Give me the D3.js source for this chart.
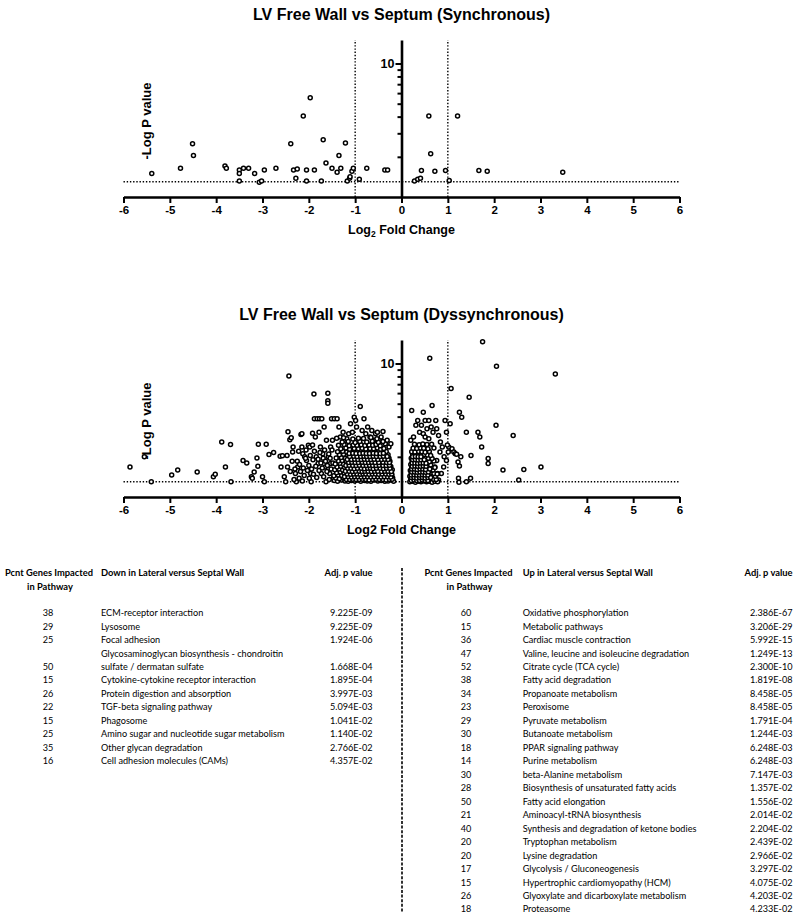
<!DOCTYPE html>
<html><head><meta charset="utf-8">
<script src="https://cdn.jsdelivr.net/npm/d3@7"></script>
<style>body{margin:0;background:#fff}</style>
</head><body><svg id="c" width="800" height="919"></svg>
<script>
// ---------- DATA ----------
const xTickValues=[-6,-5,-4,-3,-2,-1,0,1,2,3,4,5,6];
const yTickValues=[2,3,4,5,6,7,8,9,10];
const yLabeledTicks=[10];
const foldCutoffs=[-1,1];
const pCutoff=1.301;
const chartTitles=["LV Free Wall vs Septum (Synchronous)","LV Free Wall vs Septum (Dyssynchronous)"];
const yAxisLabel="-Log P value";

// [log2 fold change, -log P] synchronous
const syncPoints=[[-5.39,1.50],[-4.77,1.64],[-4.51,2.51],[-4.49,2.05],[-3.81,1.71],[-3.78,1.64],[-3.50,1.59],[-3.50,1.50],[-3.50,1.32],[-3.41,1.64],[-3.30,1.64],[-3.17,1.50],[-3.07,1.29],[-3.02,1.32],[-2.96,1.59],[-2.71,1.64],[-2.39,2.51],[-2.33,1.59],[-2.25,1.62],[-2.28,1.38],[-2.12,4.05],[-2.05,1.59],[-2.05,1.32],[-1.97,5.55],[-1.88,1.59],[-1.73,1.32],[-1.69,2.69],[-1.63,1.80],[-1.50,1.64],[-1.39,1.53],[-1.35,2.05],[-1.31,1.64],[-1.21,2.54],[-1.17,1.32],[-1.12,1.38],[-1.11,1.42],[-1.07,1.56],[-1.04,1.64],[-0.91,1.36],[-0.75,1.64],[-0.36,1.59],[-0.30,1.59],[0.28,1.32],[0.35,1.36],[0.41,1.38],[0.43,1.58],[0.59,4.05],[0.63,2.11],[0.72,1.56],[0.95,1.58],[1.03,1.33],[1.21,4.05],[1.67,1.58],[1.85,1.56],[3.48,1.53]];

// dyssynchronous: sparse points
const dysOutliers=[[-5.86,1.68],[-5.55,2.00],[-5.40,1.30],[-4.96,1.46],[-4.83,1.59],[-4.41,1.54],[-4.06,1.42],[-4.02,1.48],[-3.88,2.58],[-3.80,1.68],[-3.69,2.47],[-3.68,1.30],[-3.42,1.88],[-3.34,1.80],[-3.24,1.42],[-3.22,1.38],[-3.18,1.54],[-3.12,1.96],[-3.09,2.48],[-3.10,1.70],[-3.00,1.42],[-2.96,1.30],[-2.92,2.48],[-2.86,2.08],[-2.76,2.15],[-2.62,2.02],[-2.60,1.68],[-2.57,2.04],[-2.53,1.42],[-2.50,1.30],
[-2.47,2.05],[-2.46,1.68],[-2.45,3.08],[-2.43,8.05],[-2.41,2.69],[-2.38,2.78],[-2.35,2.17],[-2.34,2.37],[-2.29,1.50],[-2.27,1.30],[-2.24,1.68],[-2.21,1.38],[-2.17,2.94],[-2.15,2.98],[-2.15,2.37],[-2.13,2.11],[-2.09,2.00],[-2.05,1.88],[-2.01,2.44],[-1.98,2.37],[-1.96,1.50],[-1.95,1.30],[-1.92,3.00],[-1.91,1.90],[-1.89,5.91],[-1.88,3.85],[-1.86,2.81],[-1.84,2.00],[-1.82,3.85],[-1.80,1.78],[-1.78,3.06],[-1.77,3.85],[-1.75,2.37],[-1.73,1.50],[-1.72,3.85],[-1.70,2.11],[-1.67,3.34],[-1.65,1.68],[-1.63,1.30],[-1.62,2.66],[-1.59,5.98],[-1.59,5.27],[-1.59,5.04],[-1.58,2.00],[-1.55,1.50],[-1.53,2.37],[-1.53,1.78],[-1.51,3.85],[-1.49,2.66],[-1.47,1.38],
[-2.30,1.62],[-2.25,1.85],[-2.20,1.75],[-2.18,1.55],[-2.12,1.65],[-2.10,1.45],[-2.07,1.95],[-2.03,1.58],[-2.00,1.72],[-1.97,2.05],[-1.94,1.62],[-1.90,1.48],[-1.88,2.20],[-1.85,1.70],[-1.83,1.40],[-1.80,1.92],[-1.78,1.58],[-1.76,2.15],[-1.74,1.80],[-1.71,1.65],[-1.69,1.95],[-1.68,1.42],[-1.66,2.25],[-1.64,1.85],[-1.61,1.55],[-1.60,1.72],[-1.57,2.10],[-1.56,1.35],[-1.54,1.95],[-1.52,1.62],[-1.50,2.25],[-1.48,1.80],[-2.40,1.55],[-2.36,1.85],[-2.32,1.35],[-2.22,2.20],[-2.14,1.32],[-2.06,2.25],[-1.99,1.38],[-1.92,2.45],
[-1.45,3.85],[-1.39,3.85],[-1.35,3.34],[-1.32,2.81],[-1.26,3.06],[-1.22,2.66],[-1.18,2.73],[-1.14,2.98],[-1.10,3.54],[-1.06,3.06],[-1.02,3.96],[-0.99,3.74],[-0.97,3.34],[-0.89,4.76],[-0.85,3.15],[-0.81,3.85],[-0.77,2.98],[-0.73,3.34],[-0.68,2.81],[-0.64,3.15],[-0.60,2.66],[-0.56,2.98],[-0.52,3.06],[-0.48,2.66],[-0.44,2.81],[-0.40,3.10],[-0.35,2.51],[-0.31,2.66],[-0.27,2.37],[-0.23,2.51],
[0.22,4.44],[0.66,4.84],[0.47,4.32],[0.51,3.74],[0.59,3.74],[0.35,3.74],[0.31,3.44],[0.43,3.44],[0.55,3.24],[0.64,3.34],[0.74,3.74],[0.76,3.24],[0.39,3.06],[0.47,2.98],[0.68,3.06],[0.20,2.66],[0.26,2.81],[0.51,2.81],[0.59,2.73],[0.80,2.89],[0.84,2.58],
[0.83,2.17],[0.88,2.37],[0.92,2.00],[0.97,1.88],[0.91,1.68],[1.01,2.17],[1.02,2.37],[1.09,2.30],[1.13,2.17],[1.16,2.11],[1.19,2.09],[1.22,1.83],[1.25,1.71],[1.28,2.00],[1.23,1.38],[1.24,1.29],[0.86,1.50],[0.80,1.34],[0.94,3.74],[0.97,3.06],[0.99,2.45],[1.05,3.54],[1.25,4.32],[1.30,3.96],[1.07,6.51],[1.40,3.06],[1.40,1.30],[1.46,5.58],[1.49,1.38],[1.50,2.05],[1.65,3.06],[1.69,2.81],[1.73,2.37],[1.87,1.94],[1.87,1.78],[2.04,3.44],[2.05,9.55],[2.19,1.59],[2.41,2.89],[2.53,1.34],[2.64,1.61],[3.01,1.68],[3.32,8.33],[1.75,14.58],[0.61,10.96],[0.76,1.88],[0.72,1.68],[0.78,1.50]];

// dyssynchronous: dense cluster, down-regulated side
const dysLeftCluster=[[-1.45,1.33],[-1.38,1.31],[-1.30,1.34],[-1.22,1.32],[-1.15,1.31],[-1.08,1.33],[-1.01,1.32],[-0.95,1.34],[-0.88,1.31],[-0.80,1.33],[-0.74,1.32],[-0.66,1.31],[-0.58,1.34],[-0.51,1.32],[-0.44,1.33],[-0.36,1.31],[-0.29,1.32],[-0.22,1.34],[-0.17,1.31],
[-1.42,1.39],[-1.34,1.37],[-1.26,1.40],[-1.19,1.38],[-1.11,1.36],[-1.04,1.40],[-0.97,1.38],[-0.91,1.37],[-0.84,1.39],[-0.77,1.38],[-0.70,1.36],[-0.62,1.40],[-0.55,1.38],[-0.47,1.37],[-0.40,1.39],[-0.33,1.38],[-0.26,1.36],[-0.19,1.39],
[-1.46,1.44],[-1.37,1.46],[-1.29,1.45],[-1.21,1.43],[-1.13,1.47],[-1.06,1.45],[-0.99,1.44],[-0.92,1.46],[-0.86,1.45],[-0.79,1.43],[-0.72,1.46],[-0.64,1.45],[-0.57,1.44],[-0.49,1.47],[-0.42,1.45],[-0.35,1.44],[-0.28,1.46],[-0.21,1.45],
[-1.40,1.52],[-1.32,1.54],[-1.24,1.51],[-1.17,1.53],[-1.09,1.52],[-1.02,1.50],[-0.94,1.54],[-0.87,1.52],[-0.81,1.51],[-0.75,1.53],[-0.68,1.52],[-0.60,1.54],[-0.53,1.51],[-0.46,1.53],[-0.38,1.52],[-0.31,1.50],[-0.24,1.53],
[-1.44,1.60],[-1.35,1.62],[-1.27,1.59],[-1.20,1.61],[-1.12,1.60],[-1.05,1.58],[-0.98,1.62],[-0.90,1.60],[-0.83,1.59],[-0.76,1.61],[-0.69,1.60],[-0.63,1.62],[-0.56,1.58],[-0.48,1.61],[-0.41,1.60],[-0.34,1.59],[-0.27,1.61],[-0.20,1.60],
[-1.39,1.68],[-1.31,1.70],[-1.23,1.67],[-1.16,1.69],[-1.08,1.68],[-1.00,1.66],[-0.93,1.70],[-0.85,1.68],[-0.78,1.67],[-0.71,1.69],[-0.65,1.68],[-0.59,1.70],[-0.52,1.66],[-0.45,1.69],[-0.37,1.68],[-0.30,1.67],[-0.23,1.69],
[-1.43,1.77],[-1.33,1.79],[-1.25,1.76],[-1.18,1.78],[-1.10,1.77],[-1.03,1.75],[-0.96,1.79],[-0.89,1.77],[-0.82,1.76],[-0.74,1.78],[-0.67,1.77],[-0.61,1.79],[-0.54,1.75],[-0.43,1.78],[-0.36,1.77],[-0.28,1.76],
[-1.36,1.86],[-1.28,1.88],[-1.19,1.85],[-1.12,1.87],[-1.04,1.86],[-0.97,1.84],[-0.90,1.88],[-0.83,1.86],[-0.76,1.85],[-0.70,1.87],[-0.62,1.86],[-0.55,1.88],[-0.47,1.84],[-0.39,1.87],[-0.32,1.86],[-0.25,1.85],
[-1.41,1.96],[-1.30,1.98],[-1.21,1.95],[-1.14,1.97],[-1.06,1.96],[-0.99,1.94],[-0.92,1.98],[-0.84,1.96],[-0.78,1.95],[-0.71,1.97],[-0.64,1.96],[-0.57,1.98],[-0.50,1.94],[-0.42,1.97],[-0.34,1.96],[-0.27,1.95],
[-1.34,2.07],[-1.25,2.09],[-1.16,2.06],[-1.09,2.08],[-1.01,2.07],[-0.94,2.05],[-0.86,2.09],[-0.80,2.07],[-0.73,2.06],[-0.66,2.08],[-0.58,2.07],[-0.51,2.09],[-0.44,2.05],[-0.37,2.08],[-0.29,2.07],
[-1.38,2.18],[-1.27,2.20],[-1.18,2.17],[-1.11,2.19],[-1.03,2.18],[-0.95,2.16],[-0.88,2.20],[-0.81,2.18],[-0.72,2.17],[-0.65,2.19],[-0.57,2.18],[-0.49,2.20],[-0.41,2.16],[-0.33,2.19],
[-1.31,2.30],[-1.20,2.33],[-1.12,2.28],[-1.02,2.31],[-0.93,2.30],[-0.85,2.32],[-0.77,2.29],[-0.68,2.31],[-0.60,2.30],[-0.52,2.33],[-0.45,2.28],[-0.38,2.31],
[-1.36,2.44],[-1.24,2.47],[-1.13,2.42],[-1.04,2.45],[-0.96,2.44],[-0.87,2.46],[-0.79,2.43],[-0.70,2.45],[-0.62,2.44],[-0.55,2.47],[-0.46,2.42],
[-1.28,2.58],[-1.15,2.61],[-1.00,2.56],[-0.90,2.60],[-0.75,2.58],[-0.63,2.62],[-0.50,2.57],[-0.40,2.60],
[-1.40,2.75],[-1.25,2.78],[-1.05,2.72],[-0.93,2.76],[-0.82,2.74],[-0.66,2.79],[-0.53,2.73]];

// densest core of the down-regulated cluster
const dysLeftCore=[[-1.19,1.35],[-1.12,1.35],[-1.05,1.36],[-0.98,1.35],[-0.91,1.35],[-0.84,1.36],[-0.77,1.35],[-0.70,1.34],[-0.62,1.35],[-0.55,1.36],[-0.48,1.35],[-0.40,1.35],[-0.33,1.34],[-0.26,1.35],[-0.20,1.36],
[-1.23,1.42],[-1.15,1.42],[-1.08,1.41],[-1.01,1.42],[-0.94,1.42],[-0.87,1.41],[-0.80,1.42],[-0.73,1.42],[-0.66,1.41],[-0.59,1.42],[-0.51,1.42],[-0.44,1.41],[-0.37,1.42],[-0.30,1.42],[-0.23,1.41],
[-1.17,1.49],[-1.10,1.48],[-1.03,1.49],[-0.96,1.49],[-0.89,1.48],[-0.83,1.49],[-0.77,1.49],[-0.70,1.48],[-0.63,1.49],[-0.56,1.49],[-0.49,1.48],[-0.42,1.49],[-0.34,1.49],[-0.27,1.48],[-0.21,1.49],
[-1.21,1.56],[-1.13,1.56],[-1.06,1.55],[-0.99,1.56],[-0.91,1.56],[-0.85,1.55],[-0.79,1.56],[-0.72,1.56],[-0.65,1.55],[-0.58,1.56],[-0.51,1.56],[-0.43,1.55],[-0.36,1.56],[-0.29,1.56],[-0.22,1.55],
[-1.16,1.64],[-1.09,1.64],[-1.02,1.63],[-0.95,1.64],[-0.87,1.64],[-0.80,1.63],[-0.73,1.64],[-0.67,1.64],[-0.61,1.63],[-0.54,1.64],[-0.46,1.64],[-0.39,1.63],[-0.32,1.64],[-0.25,1.64],
[-1.20,1.72],[-1.13,1.73],[-1.05,1.72],[-0.98,1.72],[-0.91,1.73],[-0.83,1.72],[-0.76,1.72],[-0.69,1.73],[-0.62,1.72],[-0.55,1.72],[-0.48,1.73],[-0.40,1.72],[-0.33,1.72],[-0.26,1.73],
[-1.14,1.81],[-1.07,1.82],[-1.00,1.81],[-0.93,1.81],[-0.85,1.82],[-0.78,1.81],[-0.71,1.81],[-0.64,1.82],[-0.57,1.81],[-0.49,1.81],[-0.40,1.82],[-0.32,1.81],[-0.26,1.81],
[-1.17,1.91],[-1.08,1.91],[-1.01,1.92],[-0.94,1.91],[-0.87,1.91],[-0.80,1.92],[-0.73,1.91],[-0.66,1.91],[-0.59,1.92],[-0.51,1.91],[-0.43,1.91],[-0.36,1.92],[-0.29,1.91],
[-1.12,2.01],[-1.03,2.02],[-0.96,2.01],[-0.88,2.01],[-0.81,2.02],[-0.75,2.01],[-0.68,2.01],[-0.61,2.02],[-0.54,2.01],[-0.46,2.01],[-0.39,2.02],[-0.31,2.01],
[-1.13,2.12],[-1.05,2.13],[-0.98,2.12],[-0.90,2.12],[-0.83,2.13],[-0.76,2.12],[-0.69,2.12],[-0.61,2.13],[-0.54,2.12],[-0.46,2.12],[-0.39,2.13]];

// dyssynchronous: dense cluster, up-regulated side
const dysRightCluster=[[0.18,1.30],[0.24,1.31],[0.30,1.29],[0.36,1.31],[0.42,1.30],[0.48,1.32],[0.54,1.30],[0.60,1.31],[0.66,1.29],[0.72,1.31],[0.78,1.30],
[0.20,1.36],[0.27,1.37],[0.33,1.35],[0.39,1.36],[0.45,1.38],[0.51,1.36],[0.57,1.35],[0.63,1.37],[0.69,1.36],[0.75,1.35],
[0.18,1.43],[0.24,1.42],[0.30,1.44],[0.36,1.43],[0.42,1.41],[0.48,1.44],[0.54,1.43],[0.60,1.42],[0.66,1.44],[0.73,1.43],
[0.21,1.50],[0.27,1.51],[0.33,1.49],[0.39,1.50],[0.45,1.52],[0.51,1.50],[0.57,1.49],[0.63,1.51],[0.70,1.50],[0.77,1.49],
[0.19,1.58],[0.25,1.57],[0.31,1.59],[0.37,1.58],[0.43,1.56],[0.49,1.59],[0.55,1.58],[0.61,1.57],[0.68,1.59],
[0.22,1.66],[0.28,1.67],[0.34,1.65],[0.40,1.66],[0.46,1.68],[0.52,1.66],[0.58,1.65],[0.64,1.67],[0.72,1.66],
[0.20,1.75],[0.26,1.74],[0.32,1.76],[0.38,1.75],[0.44,1.73],[0.50,1.76],[0.56,1.75],[0.63,1.74],
[0.23,1.85],[0.29,1.86],[0.35,1.84],[0.41,1.85],[0.47,1.87],[0.53,1.85],[0.60,1.84],[0.70,1.86],
[0.21,1.95],[0.27,1.94],[0.33,1.96],[0.39,1.95],[0.45,1.93],[0.52,1.96],[0.58,1.95],[0.66,1.94],
[0.24,2.06],[0.30,2.07],[0.36,2.05],[0.42,2.06],[0.49,2.08],[0.56,2.06],[0.63,2.05],
[0.22,2.18],[0.29,2.17],[0.37,2.19],[0.44,2.18],[0.51,2.16],[0.60,2.19],
[0.25,2.32],[0.33,2.31],[0.41,2.33],[0.48,2.32],[0.57,2.30],[0.70,2.33],
[0.28,2.48],[0.38,2.46],[0.46,2.49],[0.55,2.47],[0.65,2.48]];

// densest core of the up-regulated cluster
const dysRightCore=[[0.21,1.33],[0.27,1.34],[0.33,1.33],[0.39,1.33],[0.45,1.34],[0.51,1.33],[0.57,1.33],
[0.21,1.40],[0.27,1.40],[0.33,1.39],[0.39,1.40],[0.45,1.40],[0.51,1.39],[0.57,1.40],[0.63,1.40],
[0.21,1.46],[0.27,1.47],[0.33,1.46],[0.39,1.46],[0.45,1.47],[0.51,1.46],[0.57,1.46],
[0.22,1.54],[0.28,1.54],[0.34,1.53],[0.40,1.54],[0.46,1.54],[0.52,1.53],[0.58,1.54],
[0.22,1.62],[0.28,1.62],[0.34,1.61],[0.40,1.62],[0.46,1.62],[0.52,1.61],[0.61,1.62],
[0.23,1.70],[0.29,1.71],[0.35,1.70],[0.41,1.70],[0.47,1.71],[0.53,1.70],
[0.23,1.80],[0.29,1.80],[0.35,1.79],[0.41,1.80],[0.47,1.80],[0.53,1.79],
[0.24,1.90],[0.30,1.90],[0.36,1.89],[0.42,1.90],[0.49,1.90],
[0.24,2.00],[0.30,2.01],[0.36,2.00],[0.42,2.00]];

// pathway tables
const tableHeadPcnt=["Pcnt Genes Impacted","in Pathway"];
const tableHeadDown="Down in Lateral versus Septal Wall";
const tableHeadUp="Up in Lateral versus Septal Wall";
const tableHeadP="Adj. p value";
const downPcnt=[38,29,25,50,15,26,22,15,25,35,16];
const downPathway=["ECM-receptor interaction","Lysosome","Focal adhesion","Glycosaminoglycan biosynthesis - chondroitin\nsulfate / dermatan sulfate","Cytokine-cytokine receptor interaction","Protein digestion and absorption","TGF-beta signaling pathway","Phagosome","Amino sugar and nucleotide sugar metabolism","Other glycan degradation","Cell adhesion molecules (CAMs)"];
const downP=["9.225E-09","9.225E-09","1.924E-06","1.668E-04","1.895E-04","3.997E-03","5.094E-03","1.041E-02","1.140E-02","2.766E-02","4.357E-02"];
const upPcnt=[60,15,36,47,52,38,34,23,29,30,18,14,30,28,50,21,40,20,20,17,15,26,18];
const upPathway=["Oxidative phosphorylation","Metabolic pathways","Cardiac muscle contraction","Valine, leucine and isoleucine degradation","Citrate cycle (TCA cycle)","Fatty acid degradation","Propanoate metabolism","Peroxisome","Pyruvate metabolism","Butanoate metabolism","PPAR signaling pathway","Purine metabolism","beta-Alanine metabolism","Biosynthesis of unsaturated fatty acids","Fatty acid elongation","Aminoacyl-tRNA biosynthesis","Synthesis and degradation of ketone bodies","Tryptophan metabolism","Lysine degradation","Glycolysis / Gluconeogenesis","Hypertrophic cardiomyopathy (HCM)","Glyoxylate and dicarboxylate metabolism","Proteasome"];
const upP=["2.386E-67","3.206E-29","5.992E-15","1.249E-13","2.300E-10","1.819E-08","8.458E-05","8.458E-05","1.791E-04","1.244E-03","6.248E-03","6.248E-03","7.147E-03","1.357E-02","1.556E-02","2.014E-02","2.204E-02","2.439E-02","2.966E-02","3.297E-02","4.075E-02","4.203E-02","4.233E-02"];

// ---------- DRAW ----------
const svg=d3.select("#c");
svg.append("rect").attr("width",800).attr("height",919).attr("fill","#fff");
const AX="'Liberation Sans', Arial, sans-serif";

function volcano(offY, title, points, subscript){
  const x=d3.scaleLinear().domain([-6,6]).range([123.5,679.5]);
  const y=d3.scaleLog().domain([1,15]).range([197+offY,40+offY]);
  const g=svg.append("g");
  g.append("text").attr("x",401.5).attr("y",20+offY).attr("text-anchor","middle")
    .attr("font-family",AX).attr("font-weight","bold").attr("font-size",16).text(title);
  g.append("line").attr("x1",x(-6)).attr("x2",x(6)).attr("y1",y(pCutoff)).attr("y2",y(pCutoff))
    .attr("stroke","#000").attr("stroke-width",1.4).attr("stroke-dasharray","1.4,1.8");
  foldCutoffs.forEach(c=>{
    g.append("line").attr("x1",x(c)).attr("x2",x(c)).attr("y1",y(1)).attr("y2",y(15))
      .attr("stroke","#000").attr("stroke-width",1.4).attr("stroke-dasharray","1.4,1.8");
  });
  const xa=g.append("g").attr("transform",`translate(0,${y(1)})`)
    .call(d3.axisBottom(x).tickValues(xTickValues).tickSize(6).tickSizeOuter(0).tickPadding(3).tickFormat(d=>String(d)));
  xa.select(".domain").attr("stroke-width",2.6);
  xa.selectAll(".tick line").attr("stroke-width",2);
  xa.selectAll("text").attr("font-family",AX).attr("font-weight","bold").attr("font-size",11.5).attr("fill","#000");
  const ya=g.append("g").attr("transform",`translate(${x(0)},0)`)
    .call(d3.axisLeft(y).tickValues(yTickValues).tickSize(4).tickSizeOuter(0).tickPadding(3)
      .tickFormat(d=>yLabeledTicks.includes(d)?String(d):""));
  ya.select(".domain").attr("stroke-width",2.6);
  ya.selectAll(".tick line").attr("stroke-width",2).attr("x2",d=>yLabeledTicks.includes(d)?-6:-4);
  ya.selectAll("text").attr("font-family",AX).attr("font-weight","bold").attr("font-size",12.5).attr("fill","#000");
  const xl=g.append("text").attr("x",401.5).attr("y",234+offY).attr("text-anchor","middle")
    .attr("font-family",AX).attr("font-weight","bold").attr("font-size",12.5);
  if(subscript){
    xl.append("tspan").text("Log");
    xl.append("tspan").attr("font-size",8.5).attr("dy",3).text("2");
    xl.append("tspan").attr("dy",-3).text(" Fold Change");
  } else xl.text("Log2 Fold Change");
  g.append("text").attr("transform",`translate(151,${121+offY}) rotate(-90)`).attr("text-anchor","middle")
    .attr("font-family",AX).attr("font-weight","bold").attr("font-size",13).text(yAxisLabel);
  g.append("g").selectAll("circle").data(points).join("circle")
    .attr("cx",d=>x(d[0])).attr("cy",d=>y(d[1])).attr("r",2.0)
    .attr("fill","#fff").attr("stroke","#000").attr("stroke-width",1.5);
}
volcano(0, chartTitles[0], syncPoints, true);
volcano(300, chartTitles[1], dysOutliers.concat(dysLeftCluster, dysLeftCore, dysRightCluster, dysRightCore), false);

// ---------- TABLES ----------
const TF="Lato, 'Noto Sans', sans-serif";
function fit(txt, weight, target){
  const t=svg.append("text").attr("font-family",TF).attr("font-weight",weight).attr("font-size",20).text(txt);
  const w=t.node().getComputedTextLength(); t.remove(); return 20*target/w;
}
const fsR=fit("Oxidative phosphorylation","normal",106);
const fsB=fit("Pcnt Genes Impacted","bold",88);
const rowY=d3.scaleLinear().domain([0,1]).range([612.3,625.77]);

function table(cfg){
  const g=svg.append("g").attr("font-family",TF).attr("fill","#000");
  const hb=(txt,x,yy,anchor)=>g.append("text").attr("x",x).attr("y",yy).attr("text-anchor",anchor)
    .attr("font-weight","bold").attr("font-size",fsB).text(txt);
  hb(tableHeadPcnt[0],cfg.pc,576,"middle");
  hb(tableHeadPcnt[1],cfg.pc+1,589.5,"middle");
  hb(cfg.head,cfg.nx,576,"start");
  hb(tableHeadP,cfg.vx,576,"end");
  let r=0;
  cfg.names.forEach((nm,i)=>{
    const lines=nm.split("\n");
    lines.forEach((ln,j)=>{
      const yy=rowY(r)+3.8;
      g.append("text").attr("x",cfg.nx).attr("y",yy).attr("font-size",fsR).text(ln);
      if(j===lines.length-1){
        g.append("text").attr("x",cfg.numx).attr("y",yy).attr("text-anchor","middle").attr("font-size",fsR).text(cfg.pcnt[i]);
        g.append("text").attr("x",cfg.vx).attr("y",yy).attr("text-anchor","end").attr("font-size",fsR).text(cfg.p[i]);
      }
      r++;
    });
  });
}
table({pc:49,numx:48,nx:101,vx:372.5,head:tableHeadDown,names:downPathway,pcnt:downPcnt,p:downP});
table({pc:468.5,numx:466,nx:522.7,vx:792.5,head:tableHeadUp,names:upPathway,pcnt:upPcnt,p:upP});

svg.append("line").attr("x1",402).attr("x2",402).attr("y1",568).attr("y2",913)
  .attr("stroke","#333").attr("stroke-width",2).attr("stroke-dasharray","3,1.6");
</script></body></html>
